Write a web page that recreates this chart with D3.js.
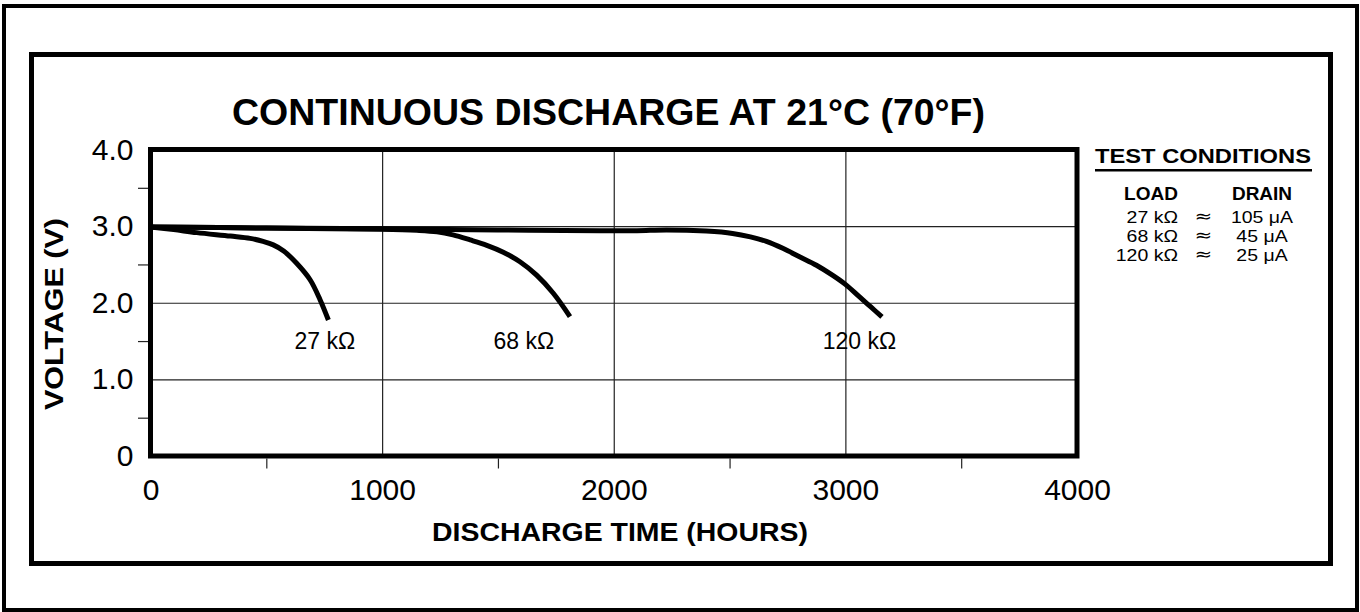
<!DOCTYPE html>
<html><head><meta charset="utf-8">
<script src="https://cdn.jsdelivr.net/npm/d3@7"></script>
<style>
html,body{margin:0;padding:0;background:#fff;}
svg{display:block;font-family:"Liberation Sans",Arial,Helvetica,sans-serif;}
</style></head><body>
<svg id="chart" width="1360" height="612"></svg>
<script>
// ---------- data ----------
const chartTitle = "CONTINUOUS DISCHARGE AT 21°C (70°F)";
const xAxisTitle = "DISCHARGE TIME (HOURS)";
const yAxisTitle = "VOLTAGE (V)";
const xTickValues = [0, 1000, 2000, 3000, 4000];
const xTickLabels = ["0", "1000", "2000", "3000", "4000"];
const xMinorTicks = [500, 1500, 2500, 3500];
const yTickValues = [0, 1, 2, 3, 4];
const yTickLabels = ["0", "1.0", "2.0", "3.0", "4.0"];
const yMinorTicks = [0.5, 1.5, 2.5, 3.5];
const xGridValues = [1000, 2000, 3000];
const yGridValues = [1, 2, 3];

const seriesNames = ["27 kΩ", "68 kΩ", "120 kΩ"];
const hours27 = [0, 100, 200, 345, 430, 486, 530, 575, 631, 689, 732, 768];
const volts27 = [2.99, 2.955, 2.915, 2.87, 2.84, 2.80, 2.755, 2.675, 2.515, 2.30, 2.04, 1.775];
const hours68 = [0, 500, 1000, 1150, 1237, 1306, 1380, 1452, 1523, 1595, 1667, 1739, 1811];
const volts68 = [2.99, 2.975, 2.96, 2.945, 2.925, 2.885, 2.82, 2.75, 2.66, 2.535, 2.36, 2.124, 1.82];
const hours120 = [0, 500, 1000, 1500, 1940, 2100, 2228, 2400, 2513, 2590, 2659, 2730, 2802, 2875, 2944, 3000, 3060, 3110, 3158];
const volts120 = [2.99, 2.975, 2.965, 2.95, 2.94, 2.94, 2.95, 2.935, 2.905, 2.86, 2.80, 2.71, 2.60, 2.49, 2.36, 2.24, 2.08, 1.945, 1.815];

const legendTitle = "TEST CONDITIONS";
const legendHeaders = ["LOAD", "DRAIN"];
const legendLoads = ["27 kΩ", "68 kΩ", "120 kΩ"];
const legendDrains = ["105 μA", "45 μA", "25 μA"];
const approxSign = "≈";

// ---------- layout ----------
const svg = d3.select("#chart");
const plot = {left: 150.5, right: 1077, top: 149.5, bottom: 456};
const x = d3.scaleLinear().domain([0, 4000]).range([plot.left, plot.right]);
const y = d3.scaleLinear().domain([0, 4]).range([plot.bottom, plot.top]);

// frames
svg.append("rect").attr("x", 4).attr("y", 6).attr("width", 1353).attr("height", 604)
  .attr("fill", "none").attr("stroke", "#000").attr("stroke-width", 4);
svg.append("rect").attr("x", 31.5).attr("y", 54.5).attr("width", 1299).attr("height", 509)
  .attr("fill", "none").attr("stroke", "#000").attr("stroke-width", 5);

// grid (via axes)
const gx = svg.append("g").attr("transform", `translate(0,${plot.bottom})`)
  .call(d3.axisBottom(x).tickValues(xGridValues).tickSize(-(plot.bottom - plot.top)).tickFormat(""));
const gy = svg.append("g").attr("transform", `translate(${plot.left},0)`)
  .call(d3.axisLeft(y).tickValues(yGridValues).tickSize(-(plot.right - plot.left)).tickFormat(""));
[gx, gy].forEach(g => {
  g.select(".domain").remove();
  g.selectAll(".tick line").attr("stroke", "#222").attr("stroke-width", 1.2);
});

// minor ticks outside
const mx = svg.append("g").attr("transform", `translate(0,${plot.bottom + 2.5})`)
  .call(d3.axisBottom(x).tickValues(xMinorTicks).tickSize(10).tickFormat(""));
const my = svg.append("g").attr("transform", `translate(${plot.left - 2.5},0)`)
  .call(d3.axisLeft(y).tickValues(yMinorTicks).tickSize(10).tickFormat(""));
[mx, my].forEach(g => {
  g.select(".domain").remove();
  g.selectAll(".tick line").attr("stroke", "#222").attr("stroke-width", 1.2);
});

// tick labels
const lx = svg.append("g").attr("transform", `translate(0,${plot.bottom})`)
  .call(d3.axisBottom(x).tickValues(xTickValues).tickSize(0).tickPadding(23)
    .tickFormat((d, i) => xTickLabels[i]));
lx.select(".domain").remove();
lx.selectAll("text").attr("font-size", 30).attr("font-family", "Liberation Sans, Arial, sans-serif").attr("fill", "#000");

const ly = svg.append("g").attr("transform", `translate(${plot.left},0)`)
  .call(d3.axisLeft(y).tickValues(yTickValues).tickSize(0).tickPadding(17)
    .tickFormat((d, i) => yTickLabels[i]));
ly.select(".domain").remove();
ly.selectAll("text").attr("font-size", 30).attr("font-family", "Liberation Sans, Arial, sans-serif").attr("fill", "#000");

// curves
const series = [
  {name: seriesNames[0], h: hours27, v: volts27, labelH: 753},
  {name: seriesNames[1], h: hours68, v: volts68, labelH: 1612},
  {name: seriesNames[2], h: hours120, v: volts120, labelH: 3061}
];
const line = d3.line().x(d => x(d[0])).y(d => y(d[1])).curve(d3.curveCatmullRom.alpha(0.5));
series.forEach(s => {
  const pts = s.h.map((h, i) => [h, s.v[i]]);
  svg.append("path").datum(pts).attr("d", line)
    .attr("fill", "none").attr("stroke", "#000").attr("stroke-width", 5);
  svg.append("text").attr("x", x(s.labelH)).attr("y", y(1.40))
    .attr("text-anchor", "middle").attr("font-size", 23).text(s.name);
});

// plot frame
svg.append("rect").attr("x", plot.left).attr("y", plot.top)
  .attr("width", plot.right - plot.left).attr("height", plot.bottom - plot.top)
  .attr("fill", "none").attr("stroke", "#000").attr("stroke-width", 5);

// titles
svg.append("text").attr("x", 608.5).attr("y", 125).attr("text-anchor", "middle")
  .attr("font-size", 37.5).attr("font-weight", "bold").text(chartTitle);
svg.append("text").attr("x", 620).attr("y", 541).attr("text-anchor", "middle")
  .attr("font-size", 26).attr("font-weight", "bold")
  .attr("textLength", 376).attr("lengthAdjust", "spacingAndGlyphs").text(xAxisTitle);
svg.append("text").attr("transform", "translate(63,314) rotate(-90)").attr("text-anchor", "middle")
  .attr("font-size", 26).attr("font-weight", "bold")
  .attr("textLength", 192).attr("lengthAdjust", "spacingAndGlyphs").text(yAxisTitle);

// legend
const lg = svg.append("g");
lg.append("text").attr("x", 1095).attr("y", 162.5).attr("font-size", 21).attr("font-weight", "bold")
  .attr("textLength", 216).attr("lengthAdjust", "spacingAndGlyphs").text(legendTitle);
lg.append("line").attr("x1", 1095).attr("x2", 1312).attr("y1", 170.3).attr("y2", 170.3)
  .attr("stroke", "#000").attr("stroke-width", 2.5);
lg.append("text").attr("x", 1151).attr("y", 199.5).attr("text-anchor", "middle")
  .attr("font-size", 19).attr("font-weight", "bold").text(legendHeaders[0]);
lg.append("text").attr("x", 1262).attr("y", 199.5).attr("text-anchor", "middle")
  .attr("font-size", 19).attr("font-weight", "bold").text(legendHeaders[1]);
const stretch = (t, f) => { const w = t.node().getComputedTextLength();
  t.attr("textLength", w * f).attr("lengthAdjust", "spacingAndGlyphs"); return t; };
legendLoads.forEach((ld, i) => {
  const by = 222.5 + i * 19.2;
  stretch(lg.append("text").attr("x", 1178).attr("y", by).attr("text-anchor", "end").attr("font-size", 16.5).text(ld), 1.18);
  stretch(lg.append("text").attr("x", 1203.5).attr("y", by - 1).attr("text-anchor", "middle")
    .attr("font-family", "DejaVu Sans, sans-serif").attr("font-size", 17).text(approxSign), 1.25);
  stretch(lg.append("text").attr("x", 1262).attr("y", by).attr("text-anchor", "middle").attr("font-size", 16.5).text(legendDrains[i]), 1.18);
});
</script>
</body></html>
